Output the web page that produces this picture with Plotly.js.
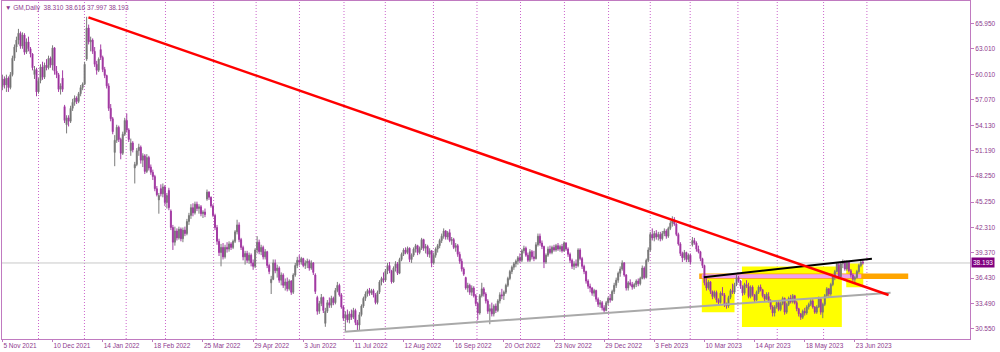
<!DOCTYPE html>
<html><head><meta charset="utf-8">
<script src="https://cdn.plot.ly/plotly-3.0.1.min.js"></script>
<style>html,body{margin:0;padding:0;background:#fff;}#chart{width:1000px;height:352px;}</style>
</head><body><div id="chart"></div>
<script>
// Daily bars, GM (index = bar number from 5 Nov 2021)
const openP = [
58.6,59.5,58.8,59.6,58.5,60.0,61.9,63.2,64.0,64.8,
63.3,64.6,62.6,63.8,63.0,62.4,60.0,60.6,58.0,59.3,
60.9,59.7,61.1,60.8,61.9,61.1,63.1,60.4,60.0,58.3,
59.6,56.3,54.2,55.0,54.6,56.1,56.8,57.3,56.9,57.8,
58.5,58.9,61.8,65.4,63.8,64.0,62.7,61.2,60.5,62.9,
62.0,60.6,59.9,58.7,56.1,54.9,51.0,52.4,53.9,52.5,
50.9,53.1,54.7,53.6,51.2,52.1,49.2,49.6,51.2,51.6,
50.1,50.6,48.8,50.4,49.3,48.7,48.2,46.8,45.5,46.8,
46.2,47.0,45.2,46.6,44.2,42.3,40.6,41.9,41.1,42.1,
41.0,42.0,41.6,43.0,43.7,44.6,44.0,45.0,44.5,44.7,
43.9,44.1,45.6,46.4,45.8,44.8,43.7,42.3,40.7,39.4,
40.0,38.9,40.0,39.8,40.4,40.0,40.7,41.8,42.6,40.9,
40.0,38.9,39.3,38.5,39.1,38.2,37.8,39.7,40.6,39.5,
40.0,38.9,39.5,37.9,35.9,36.3,38.2,37.3,37.6,36.2,
36.8,35.6,36.0,35.2,36.1,34.8,36.8,37.9,38.5,38.3,
38.7,37.9,38.2,38.4,37.6,38.2,36.8,34.2,32.6,33.5,
34.2,31.2,32.6,33.6,33.3,34.1,33.6,35.0,35.6,34.5,
33.1,31.8,32.2,31.6,32.3,31.9,32.7,31.3,31.0,32.2,
33.2,34.1,34.6,35.0,34.7,35.0,34.5,33.6,34.8,36.0,
36.4,36.2,37.3,37.9,37.3,36.0,37.6,38.1,37.0,38.6,
39.2,39.7,39.4,39.9,38.6,39.1,39.8,40.2,39.4,39.9,
40.9,39.9,40.1,39.2,39.6,38.2,39.1,39.8,40.2,40.8,
41.3,41.9,41.2,41.7,40.8,40.9,40.0,40.2,39.2,38.4,
37.5,36.5,35.3,35.6,34.8,35.3,34.4,33.5,32.4,34.4,
35.2,34.6,33.8,32.6,32.9,32.3,33.2,32.7,33.8,34.5,
34.4,34.8,35.6,36.4,37.2,37.7,38.1,38.4,38.8,38.5,
39.6,39.9,39.1,38.5,39.5,38.9,38.7,40.3,41.3,40.5,
40.1,38.3,39.1,39.8,39.4,40.0,39.7,40.2,39.8,40.1,
39.6,40.5,39.8,39.2,38.5,37.8,38.1,37.9,39.7,38.7,
37.8,37.2,36.1,35.5,35.3,34.7,35.0,34.0,33.4,33.6,
33.0,32.7,33.6,34.1,33.9,34.9,35.6,36.2,37.0,37.5,
38.2,36.8,35.3,35.9,35.7,35.4,35.7,36.1,35.8,36.4,
37.6,36.5,38.5,39.7,41.5,41.1,41.6,41.2,41.5,41.0,
41.6,41.9,41.3,42.2,42.8,43.2,42.7,41.5,40.4,39.3,
38.8,39.4,38.6,39.1,40.3,40.8,40.5,39.8,39.5,38.7,
37.9,35.9,35.3,36.0,34.9,34.3,34.8,33.9,33.6,34.7,
34.5,33.4,33.2,34.2,35.0,34.8,35.7,36.5,36.1,35.5,
34.7,35.7,35.5,34.3,35.4,34.5,33.9,34.8,35.4,35.1,
34.4,34.0,34.3,33.8,33.1,32.4,33.1,33.6,32.8,33.5,
34.1,32.5,33.4,34.1,33.7,34.4,33.6,32.9,32.3,31.9,
32.6,32.4,33.1,33.4,33.8,33.1,32.5,33.1,34.0,32.5,
33.4,34.4,35.2,34.6,35.7,36.6,37.2,38.0,36.6,38.1,
38.3,37.5,38.3,37.3,36.8,36.3,36.5,37.2,37.9,38.31
];
const highP = [
60.0,59.8,60.0,59.8,60.3,62.2,63.5,64.4,65.3,65.0,
64.9,64.8,64.2,64.4,63.2,62.5,61.0,60.8,59.6,61.2,
61.5,61.4,61.8,62.2,62.1,63.4,63.2,61.0,60.2,59.0,
60.5,56.5,55.3,55.3,56.4,57.2,57.6,57.5,58.0,58.8,
59.1,61.5,66.7,65.8,64.4,64.2,63.2,61.6,62.0,63.5,
62.2,60.9,60.0,59.0,56.6,55.1,53.0,54.2,54.1,52.7,
53.4,55.0,55.5,53.8,52.6,52.3,49.9,51.5,52.0,51.8,
50.9,50.8,50.8,50.6,49.6,49.0,48.4,47.1,46.3,47.3,
47.4,47.2,46.3,46.9,44.4,42.6,42.4,42.2,42.4,42.3,
42.3,42.4,43.3,44.0,45.0,45.1,45.3,45.3,45.0,44.9,
44.3,44.5,46.7,46.5,45.9,45.0,43.9,42.6,41.0,40.4,
40.5,40.3,40.6,40.7,40.6,40.9,42.0,43.2,42.9,41.1,
40.2,39.6,39.6,39.4,39.3,38.6,39.9,41.3,40.9,40.3,
40.2,39.8,39.6,38.1,36.7,38.6,38.6,38.0,37.8,37.1,
37.0,36.4,36.5,36.3,36.2,37.0,38.2,38.9,39.1,38.9,
38.8,38.5,38.7,38.6,38.5,38.3,37.0,34.4,33.8,34.6,
34.3,33.0,33.9,34.2,34.4,34.3,35.3,36.0,35.8,34.7,
33.3,32.6,32.8,32.6,32.8,33.0,32.9,31.6,32.5,33.4,
34.3,34.9,35.2,35.3,35.2,35.2,34.7,35.0,36.2,36.6,
37.1,37.5,38.2,38.3,37.4,37.8,38.4,38.3,38.8,39.4,
39.9,40.0,40.1,40.0,39.3,40.0,40.4,40.3,40.1,41.1,
41.0,40.4,40.3,39.9,39.7,39.4,40.0,40.4,41.0,41.6,
42.2,42.0,41.9,42.1,41.2,41.1,40.5,40.4,39.5,38.7,
37.7,36.6,35.9,35.8,35.6,35.5,34.6,33.7,34.6,35.9,
35.4,34.8,34.0,33.4,33.6,33.4,33.5,34.0,34.8,35.2,
35.0,35.8,36.6,37.4,37.9,38.3,38.6,39.0,39.3,39.8,
40.2,40.1,39.4,39.8,39.7,39.6,40.6,41.6,41.6,40.8,
40.2,39.3,40.1,40.2,40.2,40.3,40.4,40.5,40.3,40.4,
40.7,40.6,40.0,39.4,38.7,38.4,38.6,39.9,39.9,38.9,
38.0,37.3,36.3,35.8,35.4,35.2,35.1,34.2,33.9,33.8,
33.3,33.8,34.3,34.6,35.1,35.9,36.5,37.2,37.8,38.5,
38.3,36.9,36.1,36.3,36.0,35.9,36.3,36.4,36.6,37.9,
37.8,38.7,40.0,41.8,42.2,41.9,42.0,41.8,41.8,41.9,
42.2,42.1,42.4,43.1,43.6,43.5,42.8,41.7,40.6,39.5,
39.7,39.5,39.3,39.3,41.2,41.1,40.7,40.2,39.6,38.8,
38.0,36.5,36.2,36.1,35.0,35.0,35.0,34.1,34.9,35.4,
34.7,33.6,34.4,35.2,35.8,35.9,36.8,36.7,36.2,35.6,
35.9,36.2,35.9,35.6,35.6,34.6,35.0,35.6,35.7,35.2,
34.6,34.8,34.8,34.0,33.3,33.3,33.9,33.8,33.7,34.3,
34.2,33.6,34.3,34.5,34.6,34.5,33.8,33.0,32.4,32.8,
33.0,33.3,33.6,34.0,34.0,33.2,33.3,34.3,34.1,33.6,
34.6,35.4,35.3,35.9,36.8,37.4,38.3,38.3,38.3,38.6,
38.5,38.5,38.4,37.5,37.0,36.7,37.4,38.1,38.6,38.616
];
const lowP = [
58.2,58.4,58.0,58.0,58.3,59.8,61.6,62.6,63.5,63.0,
63.0,62.3,62.4,62.7,62.0,60.5,59.5,57.5,57.8,59.0,
59.4,59.5,60.5,60.6,60.8,60.5,60.0,59.6,58.0,57.7,
58.0,54.4,53.2,54.0,54.4,55.8,56.4,56.6,56.7,57.5,
58.2,58.8,61.6,63.5,62.7,62.4,60.9,60.0,60.3,61.7,
60.3,59.6,58.4,55.8,54.6,53.1,49.4,52.1,52.2,50.2,
50.7,52.9,53.3,52.2,50.6,51.0,47.4,49.4,50.6,49.7,
49.3,48.5,48.6,48.9,48.4,47.8,46.5,45.9,43.9,45.9,
45.8,44.8,44.5,44.3,42.0,39.7,40.2,40.8,40.9,40.7,
40.6,41.3,41.4,42.6,43.3,43.6,43.8,44.2,43.9,43.6,
43.4,43.5,45.4,45.5,44.6,43.5,42.0,40.3,39.0,37.8,
38.6,38.7,39.4,39.5,39.7,39.8,40.5,41.5,40.6,39.7,
38.5,38.0,38.2,38.1,37.8,37.4,37.6,39.3,39.2,39.1,
38.6,38.6,37.6,36.9,34.6,36.2,37.0,36.5,35.9,35.6,
35.3,35.0,34.9,35.0,34.5,34.6,36.6,37.6,37.9,38.0,
37.7,37.5,37.6,37.3,37.4,36.8,34.6,32.2,32.3,33.2,
32.4,30.8,32.4,33.0,33.0,33.3,33.4,34.8,34.3,32.9,
31.5,30.3,31.3,31.2,31.6,31.7,31.0,30.4,30.4,32.0,
33.0,33.8,34.3,34.4,34.5,34.2,33.4,33.4,34.6,35.6,
35.9,36.0,36.9,37.0,35.8,35.9,37.2,36.8,36.9,38.4,
39.0,39.2,39.2,38.3,38.2,38.9,39.4,39.1,39.2,39.7,
39.6,39.3,38.9,38.8,37.7,38.0,38.8,39.4,39.9,40.5,
41.0,40.9,40.9,40.6,40.3,39.8,39.5,38.9,38.1,37.2,
36.7,35.1,34.8,34.5,34.4,34.2,33.2,31.6,32.2,34.2,
34.3,33.5,32.3,31.1,32.0,32.0,32.4,32.5,33.5,34.0,
33.9,34.6,35.4,36.2,36.9,37.4,37.7,38.0,38.2,38.3,
39.3,38.9,38.3,38.3,38.6,38.4,38.6,40.1,40.2,39.8,
37.6,38.1,38.9,39.2,39.2,39.5,39.5,39.6,39.5,39.4,
39.5,39.6,38.9,38.2,37.5,37.4,37.6,37.7,38.5,37.5,
36.9,35.8,35.2,34.8,34.4,34.3,33.7,33.1,33.0,32.7,
32.4,32.6,33.3,33.6,33.8,34.6,35.3,35.9,36.6,37.3,
36.6,35.0,35.0,35.5,35.1,35.2,35.4,35.5,35.6,36.3,
36.3,36.4,38.3,39.5,40.8,40.7,40.9,40.8,40.7,40.8,
41.3,41.0,41.1,42.0,42.4,42.5,41.3,40.2,39.0,38.3,
38.5,38.3,38.3,38.0,40.1,40.3,39.5,39.3,38.4,37.6,
35.6,35.0,35.1,34.6,34.0,34.1,33.6,33.3,33.5,34.4,
33.1,32.9,33.0,34.0,34.6,34.6,35.5,35.9,35.2,34.4,
34.5,35.3,34.1,34.1,34.3,33.7,33.8,34.6,34.9,34.2,
33.7,33.9,33.6,32.8,32.0,32.0,32.9,32.6,32.6,33.3,
32.2,32.3,33.2,33.5,33.5,33.4,32.6,32.0,31.6,31.7,
32.1,32.2,32.8,33.2,32.9,32.3,32.3,33.0,32.2,31.8,
33.2,34.2,34.3,34.4,35.5,36.2,37.1,36.3,36.5,37.6,
37.3,37.3,37.1,36.5,36.1,35.9,36.4,37.0,37.7,37.997
];
const closeP = [
59.5,58.8,59.6,58.5,60.0,61.9,63.2,64.0,64.8,63.3,
64.6,62.6,63.8,63.0,62.4,60.8,60.6,58.0,59.3,60.9,
59.7,61.1,60.8,61.9,61.1,63.1,60.4,60.0,58.3,58.7,
58.3,54.7,55.0,54.6,56.1,56.8,57.3,56.9,57.8,58.5,
58.9,61.2,65.4,63.8,64.0,62.7,61.2,60.5,61.8,62.0,
60.6,59.9,58.7,56.1,54.9,53.4,52.4,53.9,52.5,50.9,
53.1,54.7,53.6,52.5,52.1,51.3,49.6,51.2,51.6,50.1,
50.6,48.8,50.4,49.2,48.7,48.2,46.8,46.1,46.0,46.2,
47.0,45.2,46.0,44.6,42.3,40.6,41.9,41.1,42.1,41.0,
42.0,41.6,43.0,43.7,44.6,44.0,45.0,44.5,44.7,43.9,
44.1,43.8,46.4,45.8,44.8,43.7,42.3,40.7,39.4,40.0,
38.9,40.0,39.8,40.4,40.0,40.7,41.8,42.6,40.9,40.0,
38.9,39.3,38.5,39.1,38.2,37.8,39.7,40.6,39.5,40.0,
38.9,39.5,37.9,37.2,36.3,38.2,37.3,37.6,36.2,36.8,
35.6,36.0,35.2,36.1,34.8,36.8,37.9,38.5,38.3,38.7,
37.9,38.2,38.4,37.6,38.2,37.1,34.9,32.6,33.5,34.2,
32.7,32.6,33.6,33.3,34.1,33.6,35.0,35.6,34.5,33.1,
31.8,32.2,31.6,32.3,31.9,32.7,31.3,31.0,32.2,33.2,
34.1,34.6,35.0,34.7,35.0,34.5,33.6,34.8,36.0,36.4,
36.2,37.3,37.9,37.3,36.0,37.6,38.1,37.0,38.6,39.2,
39.7,39.4,39.9,38.6,39.1,39.8,40.2,39.4,39.9,40.9,
39.9,40.1,39.2,39.6,38.2,39.1,39.8,40.2,40.8,41.3,
41.9,41.2,41.7,40.8,40.9,40.0,40.2,39.2,38.4,37.5,
36.9,35.3,35.6,34.8,35.3,34.4,33.5,32.4,34.4,35.2,
34.6,33.8,32.6,32.9,32.3,33.2,32.7,33.8,34.5,34.4,
34.8,35.6,36.4,37.2,37.7,38.1,38.4,38.8,38.5,39.6,
39.9,39.1,38.5,39.5,38.9,38.7,40.3,41.3,40.5,40.1,
38.3,39.1,39.8,39.4,40.0,39.7,40.2,39.8,40.1,39.6,
40.5,39.8,39.2,38.5,37.8,38.1,37.9,39.7,38.7,37.8,
37.2,36.1,35.5,35.3,34.7,35.0,34.0,33.4,33.6,33.0,
32.7,33.6,34.1,33.9,34.9,35.6,36.2,37.0,37.5,38.2,
36.8,35.3,35.9,35.7,35.4,35.7,36.1,35.8,36.4,37.6,
36.5,38.5,39.7,41.5,41.1,41.6,41.2,41.5,41.0,41.6,
41.9,41.3,42.2,42.8,43.2,42.7,41.5,40.4,39.3,38.8,
39.4,38.6,39.1,38.3,40.8,40.5,39.8,39.5,38.7,37.9,
35.9,35.3,36.0,34.9,34.3,34.8,33.9,33.6,34.7,34.5,
33.4,33.2,34.2,35.0,34.8,35.7,36.5,36.1,35.5,34.7,
35.7,35.5,34.3,35.4,34.5,33.9,34.8,35.4,35.1,34.4,
34.0,34.6,33.8,33.1,32.4,33.1,33.6,32.8,33.5,34.1,
32.5,33.4,34.1,33.7,34.4,33.6,32.9,32.3,31.9,32.6,
32.4,33.1,33.4,33.8,33.1,32.5,33.1,34.0,32.5,33.4,
34.4,35.2,34.6,35.7,36.6,37.2,38.1,36.6,38.1,38.3,
37.5,38.3,37.3,36.8,36.3,36.5,37.2,37.9,38.3,38.193
];

// x-axis date labels (every 25 bars) and y-axis price labels
const tickIdx = [0,25,50,75,100,125,150,175,200,225,250,275,300,325,350,375,400,425];
const tickLabels = ['5 Nov 2021','10 Dec 2021','14 Jan 2022','18 Feb 2022','25 Mar 2022','29 Apr 2022','3 Jun 2022','11 Jul 2022','12 Aug 2022','16 Sep 2022','20 Oct 2022','23 Nov 2022','29 Dec 2022','3 Feb 2023','10 Mar 2023','14 Apr 2023','18 May 2023','23 Jun 2023'];
const priceTicks = [65.95,63.01,60.01,57.07,54.13,51.19,48.25,45.25,42.31,39.37,36.43,33.49,30.55];
const priceTickText = ['65.950','63.010','60.010','57.070','54.130','51.190','48.250','45.250','42.310','39.370','36.430','33.490','30.550'];

// month separators (bar positions)
const monthSep = [18,40.9,61.7,81.3,105.3,126.5,148.1,170.3,190.9,214.9,236.6,258.3,280.2,302.2,323,342.9,366.7,386.3,409.4,431];

// drawn objects (bar index / price)
const redLineX = [42.9, 441.8], redLineY = [66.64, 34.49];
const supportX = [170.6, 442.8], supportY = [30.24, 34.75];
const resistX = [349.7, 433.5], resistY = [36.54, 38.69];
const boxX0 = [348.7, 368.7, 420.7], boxX1 = [365.0, 418.5, 429.2];
const boxY0 = [32.5, 30.78, 35.38], boxY1 = [36.9, 37.79, 38.13];
const orangeBand = {x0:347.4, x1:451.6, y0:36.34, y1:36.98};
const pinkBand = {x0:348.7, x1:428.2, y0:36.42, y1:36.88};
const lastPrice = 38.193;
const titleText = '▼ GM,Daily  38.310 38.616 37.997 38.193';

const idx = closeP.map((_, i) => i);
const purple = '#8e3a8e';
const borderCol = '#c07ac0';

const traces = [
  {type:'candlestick', x:idx, open:openP, high:highP, low:lowP, close:closeP,
   increasing:{line:{color:'#7a7a7a', width:1}, fillcolor:'#555555'},
   decreasing:{line:{color:'#a43ca4', width:1}, fillcolor:'#800080'},
   whiskerwidth:0, hoverinfo:'skip', showlegend:false},
  {type:'scatter', mode:'lines', x:supportX, y:supportY, line:{color:'#a9a9a9', width:2}, hoverinfo:'skip'},
  {type:'scatter', mode:'lines', x:resistX, y:resistY, line:{color:'#000000', width:2}, hoverinfo:'skip'},
  {type:'scatter', mode:'lines', x:redLineX, y:redLineY, line:{color:'#ff0000', width:2.5}, hoverinfo:'skip'}
];

const shapes = [];
monthSep.forEach(m => shapes.push({type:'line', xref:'x', yref:'paper', x0:m, x1:m, y0:0, y1:1, layer:'below',
  line:{color:'#cc66cc', width:1, dash:'1px,2px'}}));
shapes.push({type:'line', xref:'paper', yref:'y', x0:0, x1:1, y0:lastPrice, y1:lastPrice, layer:'below', line:{color:'#c8c8c8', width:1}});
boxX0.forEach((x0, i) => shapes.push({type:'rect', xref:'x', yref:'y', x0:x0, x1:boxX1[i], y0:boxY0[i], y1:boxY1[i], layer:'below', fillcolor:'#ffff00', line:{width:0}}));
shapes.push({type:'rect', xref:'x', yref:'y', x0:orangeBand.x0, x1:orangeBand.x1, y0:orangeBand.y0, y1:orangeBand.y1, layer:'below', fillcolor:'#ffa500', line:{width:0}});
shapes.push({type:'rect', xref:'x', yref:'y', x0:pinkBand.x0, x1:pinkBand.x1, y0:pinkBand.y0, y1:pinkBand.y1, layer:'below', fillcolor:'#f0a0f0', line:{width:0}});

const layout = {
  width:1000, height:352,
  margin:{l:2, r:30, t:1, b:13, pad:0},
  paper_bgcolor:'#ffffff', plot_bgcolor:'#ffffff',
  showlegend:false,
  font:{family:'"Liberation Sans", Arial, sans-serif', size:6.5, color:purple},
  xaxis:{range:[-0.2, 482.4], showgrid:false, zeroline:false, rangeslider:{visible:false},
    tickmode:'array', tickvals:tickIdx, ticktext:tickLabels, ticks:'outside', ticklen:2, tickcolor:borderCol,
    ticklabelposition:'outside right', tickfont:{size:6.5, color:purple},
    showline:true, mirror:true, linecolor:borderCol, linewidth:1, fixedrange:true},
  yaxis:{range:[29.39, 68.53], side:'right', showgrid:false, zeroline:false,
    tickmode:'array', tickvals:priceTicks, ticktext:priceTickText, ticks:'outside', ticklen:3, tickcolor:borderCol,
    tickfont:{size:6.5, color:purple},
    showline:true, mirror:true, linecolor:borderCol, linewidth:1, fixedrange:true},
  shapes:shapes,
  annotations:[
    {xref:'paper', yref:'paper', x:0, y:1, xanchor:'left', yanchor:'top', xshift:1, yshift:-1, showarrow:false,
     text:titleText, font:{size:6.5, color:purple}},
    {xref:'paper', yref:'y', x:1, y:lastPrice, xanchor:'left', yanchor:'middle', xshift:1, showarrow:false,
     text:lastPrice.toFixed(3), bgcolor:'#800080', borderpad:1, font:{size:6.5, color:'#ffffff'}}
  ]
};

Plotly.newPlot('chart', traces, layout, {staticPlot:true, displayModeBar:false});
</script>
</body></html>
